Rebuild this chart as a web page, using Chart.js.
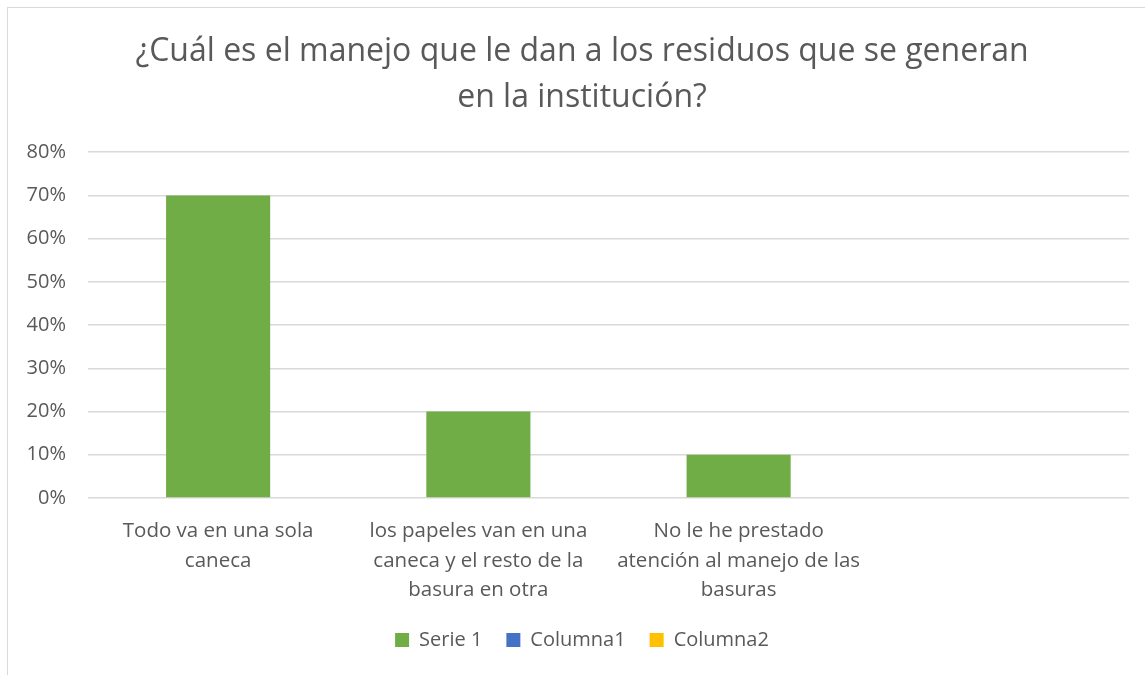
<!DOCTYPE html>
<html lang="es">
<head>
    <meta charset="UTF-8">
    <title>Manejo de residuos</title>
    <style>
        html, body { margin: 0; background: #fff; overflow: hidden; }
        #frame { position: absolute; left: 7px; top: 7px; width: 1200px; height: 720px; border: 1px solid #d9d9d9; }
        #wrap { position: absolute; left: 0; top: 0; width: 1160px; height: 675px; }
    </style>
    <script src="https://cdn.jsdelivr.net/npm/chart.js@4.4.1/dist/chart.umd.min.js"></script>
</head>
<body>
    <div id="frame"></div>
    <div id="wrap"><canvas id="chart"></canvas></div>

    <script>
        const categories = [
            ['Todo va en una sola', 'caneca'],
            ['los papeles van en una', 'caneca y el resto de la', 'basura en otra'],
            ['No le he prestado', 'atención al manejo de las', 'basuras'],
            ''
        ];
        const serie1 = [0.70, 0.20, 0.10, null];
        const columna1 = [null, null, null, null];
        const columna2 = [null, null, null, null];
        const yTicks = [0, 0.1, 0.2, 0.3, 0.4, 0.5, 0.6, 0.7, 0.8];

        const textColor = '#595959';
        const fontFamily = '"Open Sans", "Noto Sans", sans-serif';

        new Chart(document.getElementById('chart'), {
            type: 'bar',
            data: {
                labels: categories,
                datasets: [
                    { label: 'Serie 1', data: serie1, backgroundColor: '#70AD47', yAxisID: 'y' },
                    { label: 'Columna1', data: columna1, backgroundColor: '#4472C4', yAxisID: 'y' },
                    { label: 'Columna2', data: columna2, backgroundColor: '#FFC000', yAxisID: 'y' }
                ]
            },
            options: {
                responsive: true,
                maintainAspectRatio: false,
                animation: false,
                datasets: { bar: { grouped: false, categoryPercentage: 1, barPercentage: 0.4 } },
                layout: { padding: { left: 8, right: 4, top: 8, bottom: 15 } },
                plugins: {
                    tooltip: { enabled: false },
                    title: {
                        display: true,
                        text: ['¿Cuál es el manejo que le dan a los residuos que se generan', 'en la institución?'],
                        color: textColor,
                        font: { family: fontFamily, size: 32, weight: 'normal', lineHeight: 1.44 },
                        padding: { top: 21, bottom: 31 }
                    },
                    legend: {
                        position: 'bottom',
                        labels: {
                            color: textColor,
                            font: { family: fontFamily, size: 20 },
                            boxWidth: 14,
                            boxHeight: 14,
                            padding: 24
                        }
                    }
                },
                scales: {
                    x: {
                        grid: { display: false },
                        border: { display: false },
                        ticks: {
                            color: textColor,
                            font: { family: fontFamily, size: 20.5, lineHeight: 1.42 },
                            maxRotation: 0,
                            autoSkip: false,
                            padding: 11
                        },
                        afterFit: scale => { scale.height = 108; }
                    },
                    y: {
                        min: 0,
                        max: 0.8,
                        afterBuildTicks: scale => { scale.ticks = yTicks.map(v => ({ value: v })); },
                        grid: { color: '#d9d9d9', lineWidth: 1.5, drawTicks: false },
                        border: { display: false },
                        ticks: {
                            color: textColor,
                            font: { family: fontFamily, size: 20 },
                            padding: 22,
                            callback: v => Math.round(v * 100) + '%'
                        },
                        afterFit: scale => { scale.width = 80; }
                    },
                    // empty spacer on the right so title and legend centre like the reference
                    yRight: {
                        position: 'right',
                        grid: { display: false },
                        border: { display: false },
                        ticks: { display: false },
                        afterFit: scale => { scale.width = 27; }
                    }
                }
            }
        });
    </script>
</body>
</html>
